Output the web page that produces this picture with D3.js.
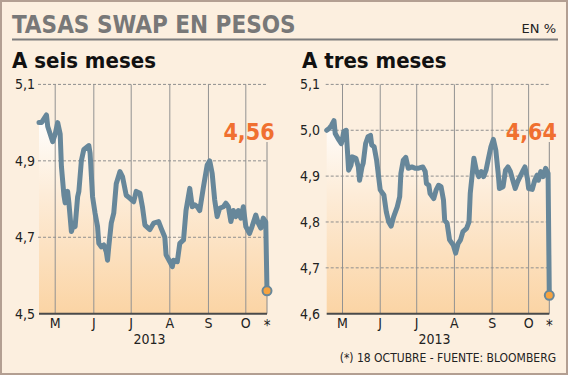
<!DOCTYPE html>
<html>
<head>
<meta charset="utf-8">
<script src="https://cdn.jsdelivr.net/npm/d3@7"></script>
<style>
  body { margin: 0; background: #fff; }
  svg { display: block; }
  text { font-family: "DejaVu Sans Condensed", "DejaVu Sans", sans-serif; }
</style>
</head>
<body>
<svg id="chart"></svg>
<script>
// Data (dates are 2013)
const dates6 = ['04-18','04-20','04-24','04-25','04-28','04-29','05-01','05-03','05-05','05-06',
  '05-08','05-09','05-11','05-12','05-14','05-16','05-17','05-19','05-20','05-22',
  '05-24','05-28','05-29','05-31','06-02','06-04','06-05','06-07','06-09','06-11',
  '06-12','06-13','06-15','06-17','06-19','06-22','06-24','06-27','06-30','07-03',
  '07-05','07-08','07-10','07-12','07-16','07-19','07-23','07-25','07-28','07-29',
  '08-01','08-03','08-04','08-07','08-09','08-12','08-14','08-17','08-19','08-21',
  '08-23','08-25','08-28','08-31','09-02','09-04','09-06','09-08','09-10','09-13',
  '09-15','09-17','09-19','09-21','09-23','09-25','09-27','09-29','10-01','10-04',
  '10-06','10-09','10-11','10-13','10-15','10-16','10-17','10-18'];
const values6 = [5.00,5.00,5.02,4.99,4.96,4.95,4.97,5.00,4.97,4.885,
  4.81,4.79,4.82,4.79,4.715,4.737,4.728,4.806,4.82,4.90,
  4.93,4.94,4.92,4.806,4.763,4.728,4.684,4.675,4.68,4.662,
  4.64,4.675,4.737,4.763,4.84,4.872,4.859,4.81,4.802,4.793,
  4.82,4.815,4.78,4.732,4.72,4.737,4.741,4.724,4.70,4.654,
  4.636,4.623,4.64,4.636,4.684,4.693,4.77,4.828,4.78,4.785,
  4.78,4.77,4.832,4.889,4.90,4.867,4.798,4.754,4.776,4.78,
  4.789,4.78,4.741,4.77,4.754,4.77,4.75,4.78,4.728,4.71,
  4.728,4.758,4.737,4.724,4.75,4.745,4.74,4.56];

const dates3 = ['04-18','04-20','04-22','04-24','04-25','04-28','04-30','05-01','05-02','05-04',
  '05-05','05-06','05-08','05-09','05-12','05-14','05-15','05-17','05-18','05-20',
  '05-22','05-24','05-25','05-27','05-29','06-01','06-04','06-06','06-08','06-10',
  '06-12','06-15','06-17','06-18','06-20','06-22','06-24','06-27','06-30','07-02',
  '07-06','07-08','07-09','07-11','07-12','07-15','07-17','07-19','07-21','07-23',
  '07-24','07-26','07-28','07-31','08-02','08-04','08-06','08-08','08-11','08-13',
  '08-14','08-17','08-19','08-21','08-23','08-25','08-27','08-29','08-31','09-02',
  '09-04','09-06','09-07','09-10','09-12','09-14','09-16','09-18','09-20','09-22',
  '09-24','09-26','09-28','09-30','10-01','10-04','10-06','10-08','10-09','10-11',
  '10-13','10-15','10-17','10-18'];
const values3 = [5.00,5.004,5.011,5.021,4.993,4.979,4.971,4.982,4.997,5.00,
  4.957,4.913,4.924,4.942,4.939,4.92,4.891,4.92,4.928,4.971,
  4.986,4.989,4.968,4.964,4.935,4.87,4.859,4.822,4.80,4.791,
  4.811,4.833,4.855,4.906,4.935,4.941,4.917,4.92,4.917,4.917,
  4.92,4.91,4.884,4.88,4.862,4.851,4.87,4.88,4.877,4.848,
  4.804,4.797,4.761,4.75,4.732,4.753,4.761,4.779,4.786,4.80,
  4.862,4.939,4.913,4.899,4.91,4.899,4.913,4.939,4.964,4.98,
  4.957,4.906,4.873,4.877,4.913,4.92,4.91,4.891,4.873,4.888,
  4.899,4.91,4.92,4.895,4.873,4.871,4.891,4.902,4.891,4.91,
  4.899,4.917,4.906,4.64];

const monthStarts = ['05-01','06-01','07-01','08-01','09-01','10-01'];
const monthLabels = ['M','J','J','A','S','O'];
const ticks6 = [4.5, 4.7, 4.9, 5.1];
const ticks3 = [4.6, 4.7, 4.8, 4.9, 5.0, 5.1];

const W = 569, H = 376;
const parse = s => new Date(2013, +s.slice(0, 2) - 1, +s.slice(3, 5));
const fmt = v => d3.format('.1f')(v).replace('.', ',');
const fmtLast = v => d3.format('.2f')(v).replace('.', ',');

const lineColor = '#67879a';
const orange = '#f07030';

const svg = d3.select('#chart').attr('width', W).attr('height', H);

// background + border
svg.append('rect')
  .attr('x', 1).attr('y', 1).attr('width', W - 3).attr('height', H - 3)
  .attr('fill', '#fcefdf').attr('stroke', '#b39f92').attr('stroke-width', 2);

// gradient for the area
const defs = svg.append('defs');
const grad = defs.append('linearGradient')
  .attr('id', 'areaGrad')
  .attr('gradientUnits', 'userSpaceOnUse')
  .attr('x1', 0).attr('y1', 115).attr('x2', 0).attr('y2', 314);
grad.append('stop').attr('offset', '0%').attr('stop-color', '#ffffff');
grad.append('stop').attr('offset', '40%').attr('stop-color', '#fdecd8');
grad.append('stop').attr('offset', '100%').attr('stop-color', '#fbd4a4');

// header
svg.append('text')
  .attr('x', 12).attr('y', 33)
  .attr('fill', '#787878')
  .style('font-size', '24px').style('font-weight', 'bold')
  .text('TASAS SWAP EN PESOS');

svg.append('line')
  .attr('x1', 12).attr('x2', 558).attr('y1', 39.5).attr('y2', 39.5)
  .attr('stroke', '#7d7d7d').attr('stroke-width', 2);

svg.append('text')
  .attr('x', 556).attr('y', 32.5)
  .attr('text-anchor', 'end')
  .attr('fill', '#222')
  .style('font-size', '13px')
  .style('font-family', '"DejaVu Sans", sans-serif')
  .text('EN %');

svg.append('text')
  .attr('x', 556).attr('y', 362)
  .attr('text-anchor', 'end')
  .attr('fill', '#222')
  .style('font-size', '12px')
  .text('(*) 18 OCTUBRE - FUENTE: BLOOMBERG');

function drawPanel(opts) {
  const data = opts.dates.map((d, i) => ({date: parse(d), value: opts.values[i]}));
  const last = data[data.length - 1];

  const x = d3.scaleTime()
    .domain([parse('04-18'), parse('10-18')])
    .range([opts.left, opts.right]);
  const y = d3.scaleLinear()
    .domain(opts.domain)
    .range([313.7, 84.4]);

  const g = svg.append('g');

  // subtitle
  g.append('text')
    .attr('x', opts.titleX).attr('y', 68)
    .attr('fill', '#111')
    .style('font-size', '22px').style('font-weight', 'bold')
    .text(opts.title);

  // area
  const area = d3.area()
    .x(d => x(d.date))
    .y0(y(opts.domain[0]))
    .y1(d => y(d.value));
  g.append('path')
    .datum(data)
    .attr('d', area)
    .attr('fill', 'url(#areaGrad)');

  // vertical month lines
  g.selectAll('.vgrid')
    .data(monthStarts)
    .enter()
    .append('line')
    .attr('x1', d => x(parse(d))).attr('x2', d => x(parse(d)))
    .attr('y1', y(5.1)).attr('y2', y(opts.domain[0]))
    .attr('stroke', '#929292').attr('stroke-width', 1);

  // line from last label down
  g.append('line')
    .attr('x1', x(last.date)).attr('x2', x(last.date))
    .attr('y1', 142).attr('y2', y(opts.domain[0]))
    .attr('stroke', '#8a8a8a').attr('stroke-width', 1);

  // horizontal dashed gridlines + y labels
  g.selectAll('.hgrid')
    .data(opts.ticks.slice(1))
    .enter()
    .append('line')
    .attr('x1', opts.left - 1).attr('x2', opts.right)
    .attr('y1', d => y(d)).attr('y2', d => y(d))
    .attr('stroke', '#8f8f8f').attr('stroke-width', 1)
    .attr('stroke-dasharray', '3,2');

  g.selectAll('.ylab')
    .data(opts.ticks)
    .enter()
    .append('text')
    .attr('x', opts.labelX)
    .attr('y', d => y(d) + 5)
    .attr('text-anchor', 'end')
    .attr('fill', '#222')
    .style('font-size', '14px')
    .text(fmt);

  // baseline
  g.append('line')
    .attr('x1', opts.left).attr('x2', opts.right)
    .attr('y1', y(opts.domain[0])).attr('y2', y(opts.domain[0]))
    .attr('stroke', '#4a4a4a').attr('stroke-width', 2);

  // month labels
  g.selectAll('.mlab')
    .data(monthStarts)
    .enter()
    .append('text')
    .attr('x', d => x(parse(d)))
    .attr('y', 328)
    .attr('text-anchor', 'middle')
    .attr('fill', '#222')
    .style('font-size', '14px')
    .text((d, i) => monthLabels[i]);

  g.append('text')
    .attr('x', x(last.date)).attr('y', 331)
    .attr('text-anchor', 'middle')
    .attr('fill', '#222')
    .style('font-size', '15px')
    .text('*');

  g.append('text')
    .attr('x', (x(parse('07-01')) + x(parse('08-01'))) / 2 - 1)
    .attr('y', 344)
    .attr('text-anchor', 'middle')
    .attr('fill', '#222')
    .style('font-size', '14px')
    .text('2013');

  // line
  const line = d3.line()
    .x(d => x(d.date))
    .y(d => y(d.value));
  g.append('path')
    .datum(data)
    .attr('d', line)
    .attr('fill', 'none')
    .attr('stroke', lineColor)
    .attr('stroke-width', 5)
    .attr('stroke-linejoin', 'round')
    .attr('stroke-linecap', 'round');

  // end point
  g.append('circle')
    .attr('cx', x(last.date)).attr('cy', y(last.value))
    .attr('r', 4.5)
    .attr('fill', '#f6a340')
    .attr('stroke', lineColor).attr('stroke-width', 2);

  // last value label
  g.append('text')
    .attr('x', x(last.date) - 18).attr('y', 139.5)
    .attr('text-anchor', 'middle')
    .attr('fill', orange)
    .style('font-size', '23px').style('font-weight', 'bold')
    .text(fmtLast(last.value));
}

drawPanel({
  title: 'A seis meses', titleX: 12,
  dates: dates6, values: values6, domain: [4.5, 5.1], ticks: ticks6,
  left: 39, right: 267, labelX: 35
});

drawPanel({
  title: 'A tres meses', titleX: 302,
  dates: dates3, values: values3, domain: [4.6, 5.1], ticks: ticks3,
  left: 326.7, right: 549.3, labelX: 320
});
</script>
</body>
</html>
